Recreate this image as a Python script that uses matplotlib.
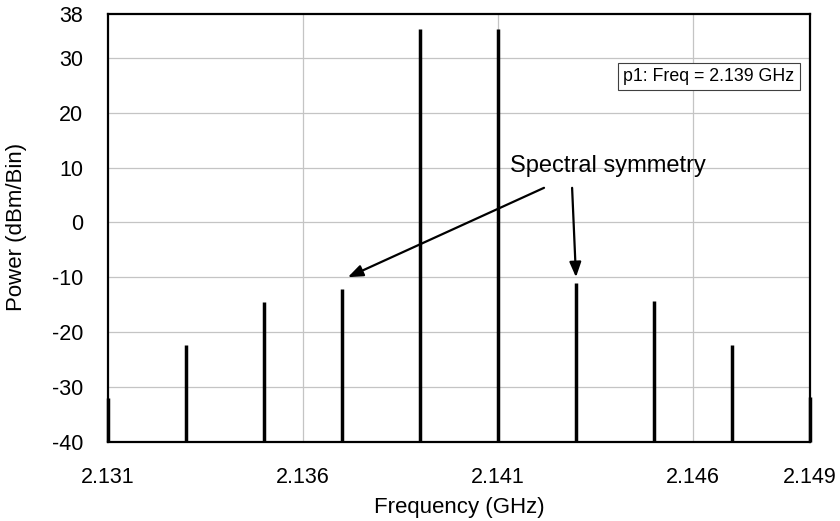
import matplotlib.pyplot as plt

plt.rcParams['font.family'] = ['Liberation Sans', 'DejaVu Sans']
plt.rcParams['axes.unicode_minus'] = False

# spectrum lines (GHz, dBm/Bin)
freqs = [2.131, 2.133, 2.135, 2.137, 2.139, 2.141, 2.143, 2.145, 2.147, 2.149]
power = [-32.0, -22.4, -14.5, -12.1, 35.2, 35.2, -11.1, -14.4, -22.3, -31.8]

x_ticks = [2.131, 2.136, 2.141, 2.146, 2.149]
x_labels = ['2.131', '2.136', '2.141', '2.146', '2.149']
x_grid = [2.136, 2.141, 2.146]
y_ticks = [-40, -30, -20, -10, 0, 10, 20, 30, 38]
y_floor = -40

fig = plt.figure(figsize=(8.4, 5.21), dpi=100)
ax = fig.add_axes([108 / 840, 1 - 441.7 / 521, 702 / 840, 427.7 / 521])

ax.set_xlim(2.131, 2.149)
ax.set_ylim(-40, 38)

# grid
for g in x_grid:
    ax.axvline(g, color='#c4c4c4', lw=0.9, zorder=0)
for t in y_ticks[1:-1]:
    ax.axhline(t, color='#c4c4c4', lw=0.9, zorder=0)

ax.vlines(freqs, y_floor, power, colors='black', lw=2.5, zorder=3, clip_on=False)

ax.set_xticks(x_ticks)
ax.set_xticklabels(x_labels)
ax.set_yticks(y_ticks)
ax.tick_params(length=0, labelsize=15.5)
ax.tick_params(axis='x', pad=18)
ax.tick_params(axis='y', pad=18)
for s in ax.spines.values():
    s.set_linewidth(1.6)

fig.text(459 / 840, 1 - 508 / 521, 'Frequency (GHz)', ha='center', va='center', fontsize=16)
fig.text(17 / 840, 1 - 227 / 521, 'Power (dBm/Bin)', ha='center', va='center',
         rotation=90, fontsize=16)

# marker box
ax.text(0.856, 0.854, 'p1: Freq = 2.139 GHz', transform=ax.transAxes, ha='center', va='center',
        fontsize=12.8,
        bbox=dict(boxstyle='square,pad=0.3', fc='white', ec='#404040', lw=0.8))

# annotation
ax.text(2.14131, 9.2, 'Spectral symmetry', fontsize=17, ha='left', va='baseline', zorder=5)
ax.annotate('', xy=(2.13715, -10), xytext=(2.14218, 6.3),
            arrowprops=dict(arrowstyle='-|>,head_length=0.9,head_width=0.35', color='black', lw=1.6,
                            shrinkA=0, shrinkB=0))
ax.annotate('', xy=(2.14300, -10), xytext=(2.14290, 6.3),
            arrowprops=dict(arrowstyle='-|>,head_length=0.9,head_width=0.35', color='black', lw=1.6,
                            shrinkA=0, shrinkB=0))

fig.savefig('out.png', dpi=100)
